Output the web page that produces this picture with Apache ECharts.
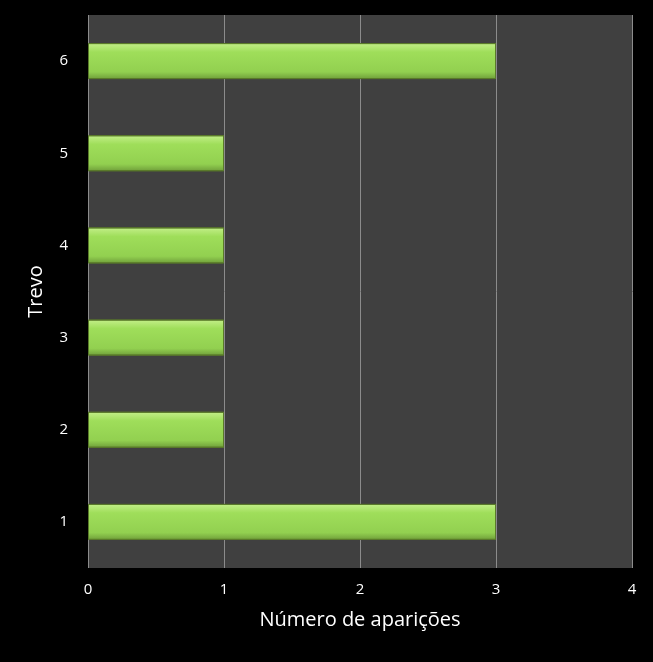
<!DOCTYPE html>
<html><head><meta charset="utf-8">
<script src="https://cdn.jsdelivr.net/npm/echarts@6/dist/echarts.min.js"></script>
<style>html,body{margin:0;background:#000}#c{width:653px;height:662px}</style>
</head><body><div id="c"></div>
<script>
const categories = ['1','2','3','4','5','6'];
const values = [3,1,1,1,1,3];
const xTicks = [0,1,2,3,4];
const chart = echarts.init(document.getElementById('c'));
chart.setOption({
  backgroundColor:'#000',
  grid:{left:88,right:21,top:15,bottom:94,show:true,backgroundColor:'#404040',borderWidth:0},
  xAxis:{type:'value',min:xTicks[0],max:xTicks[xTicks.length-1],interval:1,
    name:'Número de aparições',nameLocation:'middle',nameGap:42,
    nameTextStyle:{color:'#fff',fontSize:20,fontFamily:'Open Sans'},
    axisLabel:{color:'#fff',fontSize:15,margin:14,fontFamily:'Open Sans'},
    axisLine:{show:false},axisTick:{show:false},
    splitLine:{lineStyle:{color:'#8c8c8c',width:1}}},
  yAxis:{type:'category',data:categories,
    name:'Trevo',nameLocation:'middle',nameGap:42,
    nameTextStyle:{color:'#fff',fontSize:20,fontFamily:'Open Sans'},
    axisLabel:{color:'#fff',fontSize:15,margin:20,fontFamily:'Open Sans'},
    axisLine:{show:false},axisTick:{show:false}},
  series:[{type:'bar',data:values,barWidth:36,
    itemStyle:{borderColor:'#5a7a2a',borderWidth:1,
      color:new echarts.graphic.LinearGradient(0,0,0,1,[
        {offset:0,color:'#c4ef8a'},{offset:0.25,color:'#9fde5a'},
        {offset:0.8,color:'#92d050'},{offset:1,color:'#6f9e3a'}])}}]
});
</script></body></html>
